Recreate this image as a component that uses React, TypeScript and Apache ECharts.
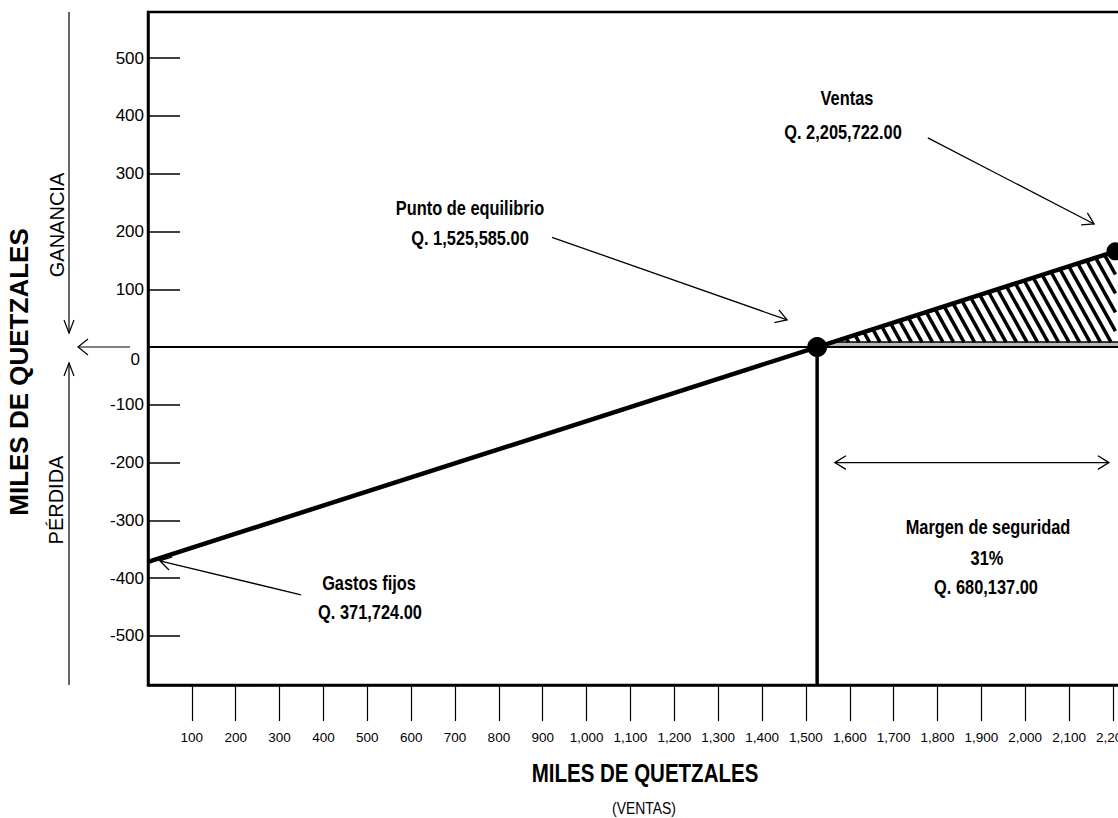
import React, { useEffect, useRef } from "react";
import * as echarts from "echarts";

// ---- data ----
const xTickValues = [100, 200, 300, 400, 500, 600, 700, 800, 900, 1000, 1100, 1200, 1300, 1400, 1500, 1600, 1700, 1800, 1900, 2000, 2100, 2200, 2300];
const yTickValues = [-500, -400, -300, -200, -100, 0, 100, 200, 300, 400, 500];
const fixedCosts = -371.724; // result at zero sales (miles de Q)
const breakEvenSales = 1525.585;
const actualSales = 2205.722;
const profitAtSales = 165.7;
const resultLine = [[0, fixedCosts], [breakEvenSales, 0], [actualSales, profitAtSales]];
const keyPoints = [[breakEvenSales, 0], [actualSales, profitAtSales]];
const zeroLine = [[0, 0], [2300, 0]];
const breakEvenDrop = [[breakEvenSales, 0], [breakEvenSales, -585]];
const profitArea = [[breakEvenSales, 0, actualSales, profitAtSales]];
// annotation arrows: [fromX, fromY, toX, toY, doubleHeaded]
const annotationArrows = [
  [1778, 362, 2157, 213, 0],
  [921, 190, 1457, 47, 0],
  [349, -429, 27, -370, 0],
  [1566, -200, 2191, -200, 1],
];
const xMin = 0, xMax = 2300, yMin = -585, yMax = 580;

const SANS = "'Liberation Sans', Arial, sans-serif";
const NARROW_SCALE = 0.82;

const txt = (text: string, x: number, y: number, size: number, bold: boolean, narrow: boolean, rotation = 0) => ({
  type: "text",
  x,
  y,
  rotation,
  scaleX: narrow ? NARROW_SCALE : 1,
  silent: true,
  style: {
    text,
    fill: "#000",
    font: `${bold ? "bold " : ""}${size}px ${SANS}`,
    textAlign: "center",
    textVerticalAlign: "middle",
    align: "center",
    verticalAlign: "middle",
  },
});

const ln = (x1: number, y1: number, x2: number, y2: number, w = 1.2) => ({
  type: "line",
  silent: true,
  shape: { x1, y1, x2, y2 },
  style: { stroke: "#000", lineWidth: w },
});

const pl = (points: number[][], w = 1.2) => ({
  type: "polyline",
  silent: true,
  shape: { points },
  style: { stroke: "#000", lineWidth: w, fill: null },
});

export default function App() {
  const ref = useRef<HTMLDivElement>(null);
  useEffect(() => {
    if (!ref.current) return;
    const chart = echarts.init(ref.current, undefined, { renderer: "svg" });
    const option: any = {
      animation: false,
      backgroundColor: "#fff",
      grid: {
        left: 148,
        top: 12,
        right: -38.8,
        bottom: 133,
        show: true,
        borderColor: "#000",
        borderWidth: 2.5,
        backgroundColor: "transparent",
        containLabel: false,
        outerBoundsMode: "none",
      },
      xAxis: {
        type: "value",
        min: xMin,
        max: xMax,
        splitLine: { show: false },
        axisLine: { show: true, onZero: false, lineStyle: { color: "#000", width: 2.5 } },
        axisTick: { show: true, inside: false, length: 36, customValues: xTickValues, lineStyle: { color: "#000", width: 1.2 } },
        axisLabel: {
          customValues: xTickValues,
          margin: 45,
          color: "#000",
          fontSize: 13.5,
          fontFamily: SANS,
          formatter: (v: number) => v.toLocaleString("en-US"),
        },
      },
      yAxis: {
        type: "value",
        min: yMin,
        max: yMax,
        splitLine: { show: false },
        axisLine: { show: true, onZero: false, lineStyle: { color: "#000", width: 2.5 } },
        axisTick: { show: true, inside: true, length: 32, customValues: yTickValues, lineStyle: { color: "#000", width: 1.5 } },
        axisLabel: {
          customValues: yTickValues,
          margin: 4,
          color: "#000",
          fontSize: 17,
          fontFamily: SANS,
          formatter: (v: number) => (v === 0 ? "{z|0}" : String(v)),
          rich: { z: { fontSize: 17, fontFamily: SANS, color: "#000", padding: [24, 4, 0, 0] } },
        },
      },
      series: [
        {
          type: "custom",
          name: "ganancia",
          z: 2,
          data: profitArea,
          encode: { x: [0, 2], y: [1, 3] },
          renderItem: (params: any, api: any) => {
            const a = api.coord([api.value(0), api.value(1)]);
            const b = api.coord([api.value(2), api.value(3)]);
            const zeroY = a[1];
            const bandTop = zeroY - 5;
            const t = (bandTop - a[1]) / (b[1] - a[1]);
            const a2 = [a[0] + t * (b[0] - a[0]), bandTop];
            const c2 = [b[0], bandTop];
            const poly = [a2, b, c2];
            const k = 1.8;
            const f = (p: number[]) => p[0] - p[1] / k;
            const fs = poly.map(f);
            const cmin = Math.min(...fs), cmax = Math.max(...fs);
            const step = 10.5;
            const children: any[] = [];
            children.push({ type: "rect", shape: { x: a[0], y: bandTop, width: b[0] - a[0] + 40, height: zeroY - bandTop }, style: { fill: "#b8b8b8" } });
            for (let c = cmin + step / 2; c < cmax; c += step) {
              const pts: number[][] = [];
              for (let i = 0; i < 3; i++) {
                const P = poly[i], Q = poly[(i + 1) % 3];
                const fp = f(P) - c, fq = f(Q) - c;
                if (fp === fq) continue;
                const tt = fp / (fp - fq);
                if (tt >= 0 && tt <= 1) pts.push([P[0] + tt * (Q[0] - P[0]), P[1] + tt * (Q[1] - P[1])]);
              }
              if (pts.length >= 2) {
                children.push({ type: "line", shape: { x1: pts[0][0], y1: pts[0][1], x2: pts[1][0], y2: pts[1][1] }, style: { stroke: "#000", lineWidth: 3.5 } });
              }
            }
            children.push({ type: "line", shape: { x1: a2[0], y1: bandTop, x2: b[0] + 40, y2: bandTop }, style: { stroke: "#000", lineWidth: 1.6 } });
            return { type: "group", children };
          },
        },
        {
          type: "line",
          name: "cero",
          z: 3,
          data: zeroLine,
          symbol: "none",
          lineStyle: { color: "#000", width: 2 },
        },
        {
          type: "line",
          name: "resultado",
          z: 4,
          data: resultLine,
          symbol: "none",
          lineStyle: { color: "#000", width: 4.5 },
        },
        {
          type: "line",
          name: "equilibrio",
          z: 4,
          data: breakEvenDrop,
          symbol: "none",
          lineStyle: { color: "#000", width: 3.5 },
        },
        {
          type: "scatter",
          name: "puntos",
          z: 5,
          data: keyPoints,
          symbol: "circle",
          symbolSize: (v: number[], p: any) => (p.dataIndex === 0 ? 20 : 18),
          itemStyle: { color: "#000", opacity: 1 },
        },
        {
          type: "custom",
          name: "flechas",
          z: 6,
          data: annotationArrows,
          encode: { x: [0, 2], y: [1, 3] },
          renderItem: (params: any, api: any) => {
            const p1 = api.coord([api.value(0), api.value(1)]);
            const p2 = api.coord([api.value(2), api.value(3)]);
            const both = api.value(4) === 1;
            const head = (tip: number[], from: number[]) => {
              const ang = Math.atan2(from[1] - tip[1], from[0] - tip[0]);
              const L = 13, sp = 0.55;
              return {
                type: "polyline",
                shape: {
                  points: [
                    [tip[0] + L * Math.cos(ang + sp), tip[1] + L * Math.sin(ang + sp)],
                    tip,
                    [tip[0] + L * Math.cos(ang - sp), tip[1] + L * Math.sin(ang - sp)],
                  ],
                },
                style: { stroke: "#000", lineWidth: 1.3, fill: null },
              };
            };
            const children: any[] = [
              { type: "line", shape: { x1: p1[0], y1: p1[1], x2: p2[0], y2: p2[1] }, style: { stroke: "#000", lineWidth: 1.3 } },
              head(p2, p1),
            ];
            if (both) children.push(head(p1, p2));
            return { type: "group", children };
          },
        },
      ],
      graphic: [
        txt("MILES DE QUETZALES", 19, 372, 26, true, false, Math.PI / 2),
        txt("GANANCIA", 57, 225, 20, false, false, Math.PI / 2),
        txt("PÉRDIDA", 56, 500, 20, false, false, Math.PI / 2),
        ln(69, 12, 69, 333),
        pl([[64, 320], [69, 333], [74, 320]]),
        ln(69, 363, 69, 685),
        pl([[64, 376], [69, 363], [74, 376]]),
        ln(130, 347, 78, 347),
        pl([[88, 339], [78, 347], [88, 355]]),
        txt("MILES DE QUETZALES", 645, 773, 25, true, true),
        txt("(VENTAS)", 644, 808, 17, false, true),
        txt("Ventas", 847, 98, 20, true, true),
        txt("Q. 2,205,722.00", 843, 132, 20, true, true),
        txt("Punto de equilibrio", 470, 208, 20, true, true),
        txt("Q. 1,525,585.00", 470, 238, 20, true, true),
        txt("Gastos fijos", 369, 583, 20, true, true),
        txt("Q. 371,724.00", 370, 612, 20, true, true),
        txt("Margen de seguridad", 988, 527, 20, true, true),
        txt("31%", 987, 558, 20, true, true),
        txt("Q. 680,137.00", 986, 587, 20, true, true),
      ],
    };
    chart.setOption(option);
    return () => chart.dispose();
  }, []);
  return <div ref={ref} style={{ position: "absolute", left: 0, top: 0, width: 1118, height: 818 }} />;
}
